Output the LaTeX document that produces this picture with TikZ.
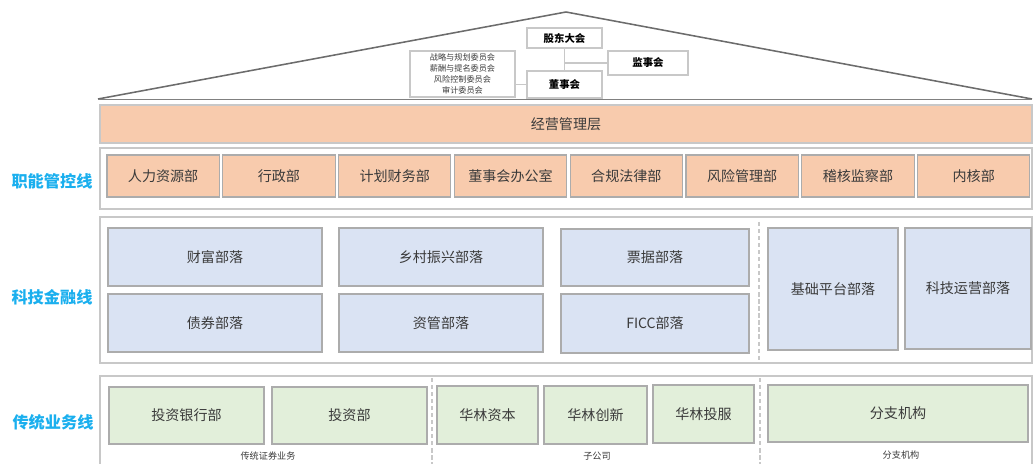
\documentclass[tikz,border=0pt]{standalone}
\usepackage{fontspec}
\setmainfont{Noto Sans CJK SC}
\usepackage{tikz}

\definecolor{naranja}{HTML}{F8CBAD}
\definecolor{azulclaro}{HTML}{DAE3F3}
\definecolor{verdeclaro}{HTML}{E2EFDA}
\definecolor{borde}{HTML}{ACACAC}
\definecolor{marco}{HTML}{C8C8C8}
\definecolor{celeste}{HTML}{1AAFEE}
\definecolor{texto}{HTML}{3A3A3A}

\tikzset{
  caja/.style={draw=borde, line width=0.8pt, inner sep=0pt, outer sep=0pt,
    text=texto, font=\fontsize{10}{12}\selectfont},
  cajanar/.style={caja, fill=naranja},
  cajaazul/.style={caja, fill=azulclaro},
  cajaverde/.style={caja, fill=verdeclaro},
  cajatop/.style={draw=marco, line width=0.9pt, inner sep=0pt, outer sep=0pt,
    text=black, font=\fontsize{7.4}{9}\selectfont\bfseries},
  comite/.style={cajatop, font=\fontsize{5.8}{7.8}\selectfont, text=texto, align=center},
  marcopanel/.style={draw=marco, line width=1.2pt},
  separador/.style={draw=marco, line width=0.8pt, densely dashed},
  enlace/.style={draw=marco, line width=0.8pt},
  etiqueta/.style={text=celeste, font=\fontsize{11.5}{13}\selectfont\bfseries},
  nota/.style={text=texto, font=\fontsize{6.5}{8}\selectfont}
}

% caja con esquinas (x1,y1) y (x2,y2) en pixeles
\newcommand{\bloque}[7]{%
  \node[#1, minimum width={(#5-#3)*0.025cm}, minimum height={(#6-#4)*0.025cm}]
    (#2) at ({(#3+#5)/2},{(#4+#6)/2}) {#7};}

\begin{document}
\begin{tikzpicture}[x=0.025cm, y=-0.025cm]
  \useasboundingbox (0,0) rectangle (1034,464);

  % Tejado
  \draw[draw=gray!85!black, line width=1.1pt, line join=round] (98,99) -- (566,12) -- (1032,99);
  \draw[draw=gray, line width=1.1pt] (98,99.5) -- (1032,99.5);

  % Organos de gobierno
  \bloque{cajatop}{gd}{527}{28}{602}{48}{股东大会}
  \bloque{cajatop}{js}{608}{51}{688}{75}{监事会}
  \bloque{cajatop}{ds}{527}{71}{602}{98}{董事会}
  \bloque{comite}{wy}{410}{51}{515}{97}{战略与规划委员会\\薪酬与提名委员会\\风险控制委员会\\审计委员会}
  \draw[enlace] (gd.south) -- (ds.north);
  \draw[enlace] (js.west) -- (js.west -| gd.south);
  \draw[enlace] (ds.west) -- (ds.west -| wy.east);

  % Direccion
  \bloque{cajanar, draw=marco}{jy}{100}{105}{1032}{143}{经营管理层}

  % Linea de control funcional
  \draw[marcopanel] (100,148) rectangle (1032,209);
  \node[etiqueta] (l1) at (52,181) {职能管控线};
  \foreach \t [count=\i from 0] in {人力资源部,行政部,计划财务部,董事会办公室,合规法律部,风险管理部,稽核监察部,内核部}{
    \pgfmathsetmacro{\xa}{107+\i*115.8}
    \pgfmathsetmacro{\xb}{\xa+112.3}
    \bloque{cajanar}{f\i}{\xa}{155}{\xb}{197}{\t}
  }

  % Linea tecnologia y finanzas
  \draw[marcopanel] (100,217) rectangle (1032,363);
  \node[etiqueta] (l2) at (52,297) {科技金融线};
  \bloque{cajaazul}{t1}{108}{228}{322}{286}{财富部落}
  \bloque{cajaazul}{t2}{108}{294}{322}{352}{债券部落}
  \bloque{cajaazul}{t3}{339}{228}{543}{286}{乡村振兴部落}
  \bloque{cajaazul}{t4}{339}{294}{543}{352}{资管部落}
  \bloque{cajaazul}{t5}{561}{229}{749}{286}{票据部落}
  \bloque{cajaazul}{t6}{561}{294}{749}{353}{FICC部落}
  \bloque{cajaazul}{t7}{768}{228}{898}{350}{基础平台部落}
  \bloque{cajaazul}{t8}{905}{228}{1031}{349}{科技运营部落}
  \draw[separador] (759,222) -- (759,360);

  % Linea de negocio tradicional
  \draw[marcopanel] (100,464) -- (100,376) -- (1032,376) -- (1032,464);
  \node[etiqueta] (l3) at (53,422) {传统业务线};
  \bloque{cajaverde}{b1}{109}{387}{264}{444}{投资银行部}
  \bloque{cajaverde}{b2}{272}{387}{427}{444}{投资部}
  \bloque{cajaverde}{b3}{437}{386}{538}{444}{华林资本}
  \bloque{cajaverde}{b4}{544}{386}{647}{444}{华林创新}
  \bloque{cajaverde}{b5}{653}{385}{754}{443}{华林投服}
  \bloque{cajaverde}{b6}{768}{385}{1028}{442}{分支机构}
  \draw[separador] (432,378) -- (432,464);
  \draw[separador] (760,378) -- (760,464);
  \node[nota] (n1) at (268,456) {传统证券业务};
  \node[nota] (n2) at (597,456) {子公司};
  \node[nota] (n3) at (901,455) {分支机构};
\end{tikzpicture}
\end{document}
